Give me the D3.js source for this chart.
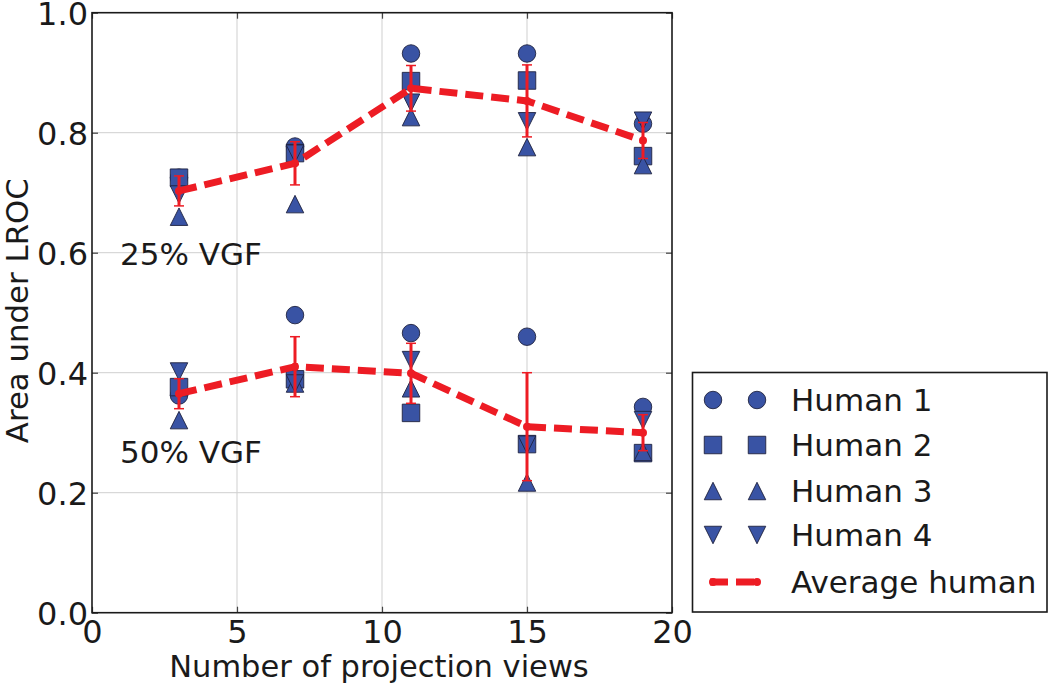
<!DOCTYPE html>
<html><head><meta charset="utf-8">
<script src="https://cdn.jsdelivr.net/npm/d3@7"></script>
<style>
body{margin:0;background:#fff}
text{font-family:"DejaVu Sans",sans-serif;fill:#1a1a1a}
</style>
</head><body>
<svg id="c" width="1050" height="685"></svg>
<script>
// ---------- data ----------
const views = [3, 7, 11, 15, 19];
const xTicks = [0, 5, 10, 15, 20];
const yTicks = [0.0, 0.2, 0.4, 0.6, 0.8, 1.0];
const seriesNames = ["Human 1", "Human 2", "Human 3", "Human 4"];
const averageName = "Average human";
const groupLabels = ["25% VGF", "50% VGF"];

const human1_25 = [0.725, 0.777, 0.932, 0.932, 0.815];
const human2_25 = [0.725, 0.766, 0.886, 0.887, 0.761];
const human3_25 = [0.660, 0.681, 0.826, 0.776, 0.746];
const human4_25 = [0.697, 0.765, 0.850, 0.819, 0.820];
const avg_25    = [0.703, 0.749, 0.874, 0.853, 0.787];
const err_25    = [0.025, 0.036, 0.038, 0.060, 0.030];

const human1_50 = [0.362, 0.496, 0.466, 0.460, 0.343];
const human2_50 = [0.376, 0.389, 0.333, 0.281, 0.266];
const human3_50 = [0.321, 0.382, 0.374, 0.217, 0.268];
const human4_50 = [0.402, 0.382, 0.421, 0.280, 0.321];
const avg_50    = [0.365, 0.410, 0.399, 0.310, 0.300];
const err_50    = [0.025, 0.050, 0.050, 0.090, 0.030];

// annotation anchor points (data coords)
const groupLabelPos = [[1, 0.58], [1, 0.25]];

// ---------- setup ----------
const svg = d3.select("#c");
const L = 92, R = 672, T = 12.7, B = 612.7;
const x = d3.scaleLinear().domain([0, 20]).range([L, R]);
const y = d3.scaleLinear().domain([0, 1]).range([B, T]);

const BLUE = "#3953a4", EDGE = "#1f2340", RED = "#ed1c24";
const MS = 17.5;

function markerPath(shape, s) {
  const h = s / 2;
  if (shape === "circle") {
    const p = d3.path(); p.arc(0, 0, h, 0, 2 * Math.PI); return p.toString();
  }
  if (shape === "square") return `M${-h},${-h}H${h}V${h}H${-h}Z`;
  if (shape === "up") return `M0,${-h}L${h},${h}L${-h},${h}Z`;
  if (shape === "down") return `M0,${h}L${h},${-h}L${-h},${-h}Z`;
}
const shapes = ["circle", "square", "up", "down"];

// grid
const grid = svg.append("g");
grid.selectAll("line.gx").data(xTicks.slice(1, -1)).join("line")
  .attr("x1", d => x(d)).attr("x2", d => x(d)).attr("y1", T).attr("y2", B)
  .attr("stroke", "#cfcfcf").attr("stroke-width", 1);
grid.selectAll("line.gy").data(yTicks.slice(1, -1)).join("line")
  .attr("y1", d => y(d)).attr("y2", d => y(d)).attr("x1", L).attr("x2", R)
  .attr("stroke", "#cfcfcf").attr("stroke-width", 1);

// axes (inward ticks on all sides)
const fmtY = d3.format(".1f");
const axB = svg.append("g").attr("transform", `translate(0,${B})`)
  .call(d3.axisBottom(x).tickValues(xTicks).tickFormat(d3.format("d")).tickSize(-6).tickPadding(10));
const axT = svg.append("g").attr("transform", `translate(0,${T})`)
  .call(d3.axisTop(x).tickValues(xTicks).tickSize(-6).tickFormat(""));
const axL = svg.append("g").attr("transform", `translate(${L},0)`)
  .call(d3.axisLeft(y).tickValues(yTicks).tickFormat(fmtY).tickSize(-6).tickPadding(4));
const axR = svg.append("g").attr("transform", `translate(${R},0)`)
  .call(d3.axisRight(y).tickValues(yTicks).tickSize(-6).tickFormat(""));
[axB, axT, axL, axR].forEach(a => {
  a.select(".domain").remove();
  a.selectAll(".tick line").attr("stroke", "#444").attr("stroke-width", 1.2);
  a.selectAll("text").attr("font-family", "DejaVu Sans").attr("fill", "#1a1a1a");
});
axB.selectAll("text").attr("font-size", 32).attr("dy", null).attr("y", 30);
axL.selectAll("text").attr("font-size", 32).attr("dy", "0.36em");

// frame
svg.append("rect").attr("x", L).attr("y", T).attr("width", R - L).attr("height", B - T)
  .attr("fill", "none").attr("stroke", "#1a1a1a").attr("stroke-width", 1.6);

// axis labels
svg.append("text").attr("x", (L + R) / 2 - 3).attr("y", 677).attr("text-anchor", "middle")
  .attr("font-size", 30.5).text("Number of projection views");
svg.append("text").attr("transform", `translate(28,${(T + B) / 2 - 2}) rotate(-90)`)
  .attr("text-anchor", "middle").attr("font-size", 30.8).text("Area under LROC");

// group labels
groupLabels.forEach((t, i) => {
  svg.append("text").attr("x", x(groupLabelPos[i][0]) - 1).attr("y", y(groupLabelPos[i][1]))
    .attr("font-size", 31).text(t);
});

// markers
const groups = [
  { humans: [human1_25, human2_25, human3_25, human4_25], avg: avg_25, err: err_25 },
  { humans: [human1_50, human2_50, human3_50, human4_50], avg: avg_50, err: err_50 }
];
const plot = svg.append("g");
groups.forEach(g => {
  g.humans.forEach((vals, si) => {
    plot.append("g").selectAll("path").data(vals).join("path")
      .attr("d", markerPath(shapes[si], MS))
      .attr("transform", (d, i) => `translate(${x(views[i])},${y(d)})`)
      .attr("fill", BLUE).attr("stroke", EDGE).attr("stroke-width", 0.9);
  });
});
groups.forEach(g => {
  const pts = views.map((v, i) => [v, g.avg[i], g.err[i]]);
  plot.append("path").datum(pts)
    .attr("d", d3.line().x(d => x(d[0])).y(d => y(d[1])))
    .attr("fill", "none").attr("stroke", RED).attr("stroke-width", 7)
    .attr("stroke-dasharray", "18,8");
  const eb = plot.append("g");
  eb.selectAll("line.v").data(pts).join("line")
    .attr("x1", d => x(d[0])).attr("x2", d => x(d[0]))
    .attr("y1", d => y(d[1] - d[2])).attr("y2", d => y(d[1] + d[2]))
    .attr("stroke", RED).attr("stroke-width", 3);
  [-1, 1].forEach(s => {
    eb.selectAll("line.c" + s).data(pts).join("line")
      .attr("x1", d => x(d[0]) - 5).attr("x2", d => x(d[0]) + 5)
      .attr("y1", d => y(d[1] + s * d[2])).attr("y2", d => y(d[1] + s * d[2]))
      .attr("stroke", RED).attr("stroke-width", 1.5);
  });
  eb.selectAll("circle").data(pts).join("circle")
    .attr("cx", d => x(d[0])).attr("cy", d => y(d[1])).attr("r", 4).attr("fill", RED);
});

// legend
const lg = svg.append("g");
lg.append("rect").attr("x", 692.5).attr("y", 372.5).attr("width", 354.5).attr("height", 239.5)
  .attr("fill", "#fff").attr("stroke", "#1a1a1a").attr("stroke-width", 1.6);
const rowY = [400, 445, 491, 535, 582];
seriesNames.forEach((n, i) => {
  [713, 757].forEach(mx => {
    lg.append("path").attr("d", markerPath(shapes[i], MS))
      .attr("transform", `translate(${mx},${rowY[i]})`)
      .attr("fill", BLUE).attr("stroke", EDGE).attr("stroke-width", 0.9);
  });
  lg.append("text").attr("x", 791).attr("y", rowY[i] + 10.5).attr("font-size", 31).text(n);
});
lg.append("line").attr("x1", 710).attr("x2", 759).attr("y1", rowY[4]).attr("y2", rowY[4])
  .attr("stroke", RED).attr("stroke-width", 7).attr("stroke-dasharray", "18,8");
[713, 757].forEach(mx => lg.append("circle").attr("cx", mx).attr("cy", rowY[4]).attr("r", 4).attr("fill", RED));
lg.append("text").attr("x", 791).attr("y", rowY[4] + 10.5).attr("font-size", 31).text(averageName);
</script>
</body></html>
